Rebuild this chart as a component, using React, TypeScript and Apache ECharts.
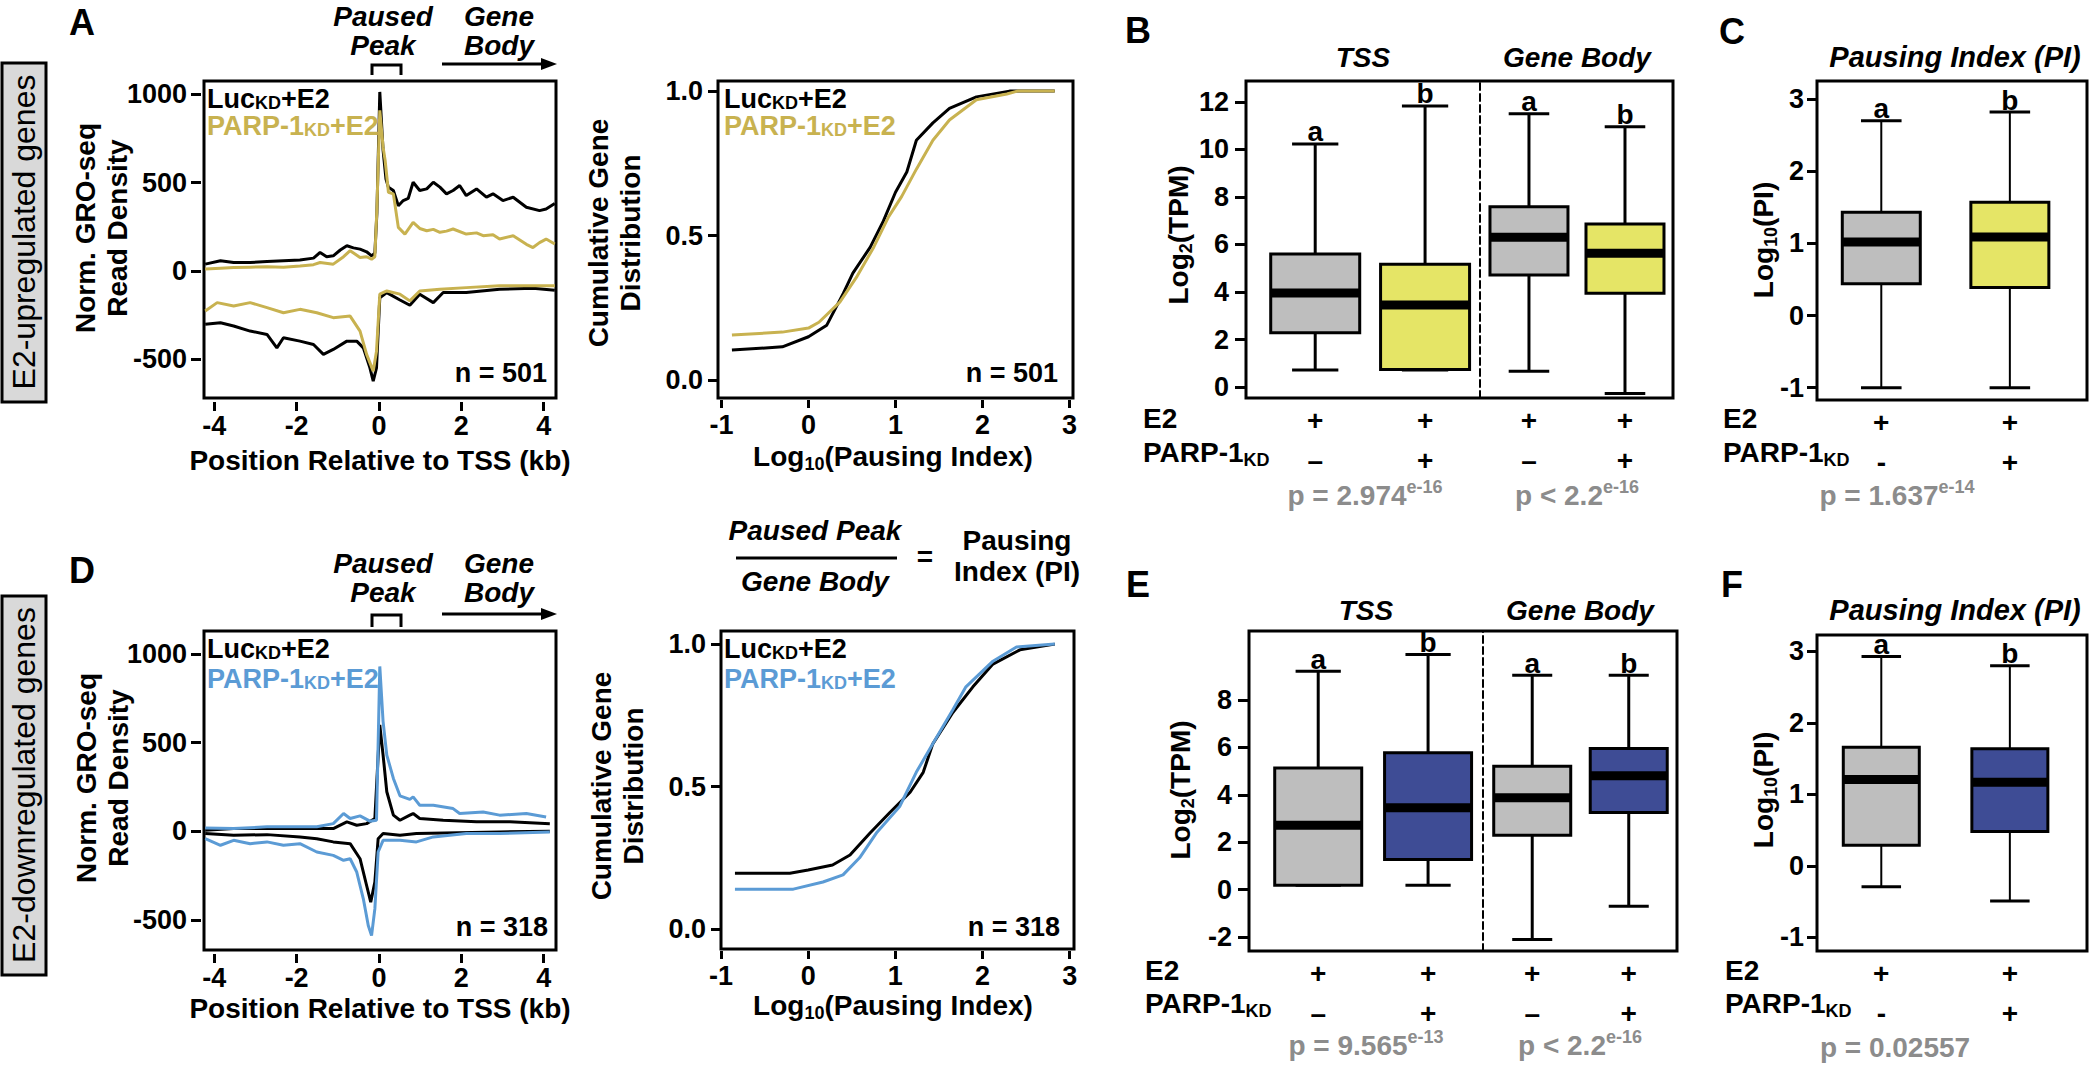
import React, { useEffect, useRef } from 'react';
import * as echarts from 'echarts';

const FONT = '"Liberation Sans", Arial, Helvetica, sans-serif';
const BLACK = '#000000';
const GOLD = '#C8B250';
const BLUE = '#5B9BD5';
const BOX_GRAY = '#BEBEBE';
const BOX_YELLOW = '#E5E566';
const BOX_NAVY = '#3E4C95';
const P_GRAY = '#8C8C8C';
const LABEL_BOX = '#D9D9D9';

// ---------- tick labels ----------
const PROFILE_X_TICKS = [-4, -2, 0, 2, 4];
const PROFILE_Y_TICKS = [-500, 0, 500, 1000];
const CUM_X_TICKS = [-1, 0, 1, 2, 3];
const CUM_Y_TICKS = [0, 0.5, 1];
const TPM_UP_TICKS = [0, 2, 4, 6, 8, 10, 12];
const TPM_DOWN_TICKS = [-2, 0, 2, 4, 6, 8];
const PI_TICKS = [-1, 0, 1, 2, 3];

// ---------- categories ----------
const GROUPS = ['LucKD+E2', 'PARP-1KD+E2'];
const E2_SIGNS = ['+', '+'];
const KD_SIGNS_TPM = ['\u2013', '+'];
const KD_SIGNS_PI = ['-', '+'];
const LETTERS = ['a', 'b'];

// ---------- GRO-seq profiles: [position kb, read density] ----------
const A_LUC_SENSE = [[-4.22,38],[-3.85,57],[-3.53,47],[-3.13,47],[-2.72,53],[-2.32,57],[-1.92,61],[-1.59,72],[-1.43,104],[-1.27,80],[-1.11,85],[-0.94,118],[-0.78,142],[-0.62,130],[-0.46,123],[-0.3,108],[-0.18,85],[-0.1,100],[-0.05,330],[0.02,1013],[0.1,682],[0.17,520],[0.23,473],[0.35,455],[0.47,369],[0.59,398],[0.71,410],[0.83,502],[0.99,455],[1.16,464],[1.32,502],[1.48,474],[1.64,436],[1.8,455],[1.96,483],[2.12,426],[2.37,464],[2.61,417],[2.77,436],[3.01,398],[3.26,417],[3.58,360],[3.9,341],[4.06,350],[4.27,382]];
const A_PARP_SENSE = [[-4.22,10],[-3.85,15],[-3.53,19],[-3.13,21],[-2.72,23],[-2.32,20],[-1.92,28],[-1.59,35],[-1.43,47],[-1.11,38],[-0.86,80],[-0.7,114],[-0.46,76],[-0.3,80],[-0.18,66],[-0.1,80],[-0.05,350],[0.02,909],[0.1,700],[0.15,625],[0.23,445],[0.35,436],[0.47,246],[0.63,208],[0.83,274],[0.99,240],[1.16,227],[1.32,235],[1.48,218],[1.64,225],[1.8,237],[2.12,208],[2.37,215],[2.53,199],[2.77,205],[2.93,180],[3.26,199],[3.58,150],[3.74,132],[3.9,160],[4.06,180],[4.27,152]];
const A_LUC_ANTI = [[-4.22,-303],[-3.85,-294],[-3.53,-312],[-3.13,-341],[-2.72,-360],[-2.48,-436],[-2.32,-379],[-1.92,-398],[-1.59,-417],[-1.35,-473],[-1.11,-445],[-0.78,-398],[-0.54,-398],[-0.38,-436],[-0.22,-549],[-0.14,-625],[-0.06,-549],[0.02,-152],[0.19,-123],[0.51,-165],[0.75,-195],[0.99,-132],[1.32,-180],[1.56,-123],[2.12,-123],[2.93,-104],[3.74,-98],[4.27,-110]];
const A_PARP_ANTI = [[-4.22,-227],[-3.93,-180],[-3.53,-199],[-3.13,-180],[-2.72,-208],[-2.32,-237],[-1.92,-218],[-1.51,-237],[-1.11,-265],[-0.7,-256],[-0.46,-341],[-0.3,-473],[-0.14,-568],[-0.06,-455],[0.02,-132],[0.19,-114],[0.51,-132],[0.75,-170],[0.99,-114],[1.48,-104],[2.12,-95],[2.93,-85],[3.74,-85],[4.27,-85]];

const D_LUC_SENSE = [[-4.22,6],[-3.53,15],[-2.72,15],[-1.92,15],[-1.11,15],[-0.78,53],[-0.54,34],[-0.3,43],[-0.1,72],[0.02,600],[0.1,430],[0.19,223],[0.35,91],[0.51,62],[0.75,91],[0.83,100],[0.99,72],[1.56,62],[2.37,53],[3.18,53],[4.15,43]];
const D_PARP_SENSE = [[-4.22,19],[-3.53,15],[-2.72,25],[-1.51,25],[-1.11,43],[-0.86,100],[-0.7,72],[-0.46,87],[-0.22,57],[-0.06,62],[0.02,930],[0.1,619],[0.19,430],[0.35,298],[0.51,200],[0.75,180],[0.83,194],[0.99,147],[1.32,147],[1.8,128],[1.96,100],[2.53,109],[2.93,91],[3.58,100],[4.06,81]];
const D_LUC_ANTI = [[-4.22,-13],[-3.53,-23],[-2.72,-19],[-1.92,-32],[-1.51,-42],[-1.11,-60],[-0.7,-70],[-0.46,-155],[-0.3,-306],[-0.2,-400],[-0.1,-287],[-0.02,-42],[0.1,-13],[0.51,-23],[0.91,-13],[2.93,-4],[4.15,0]];
const D_PARP_ANTI = [[-4.22,-42],[-3.85,-79],[-3.53,-51],[-3.13,-70],[-2.72,-60],[-2.32,-79],[-1.92,-70],[-1.51,-117],[-1.11,-136],[-0.86,-164],[-0.7,-155],[-0.54,-230],[-0.38,-381],[-0.26,-532],[-0.18,-589],[-0.1,-438],[-0.02,-117],[0.1,-51],[0.51,-51],[0.91,-60],[1.32,-32],[2.12,-13],[2.93,-13],[4.15,-4]];

// ---------- cumulative distributions: [log10 PI, fraction] ----------
const UP_CUM_LUC = [[-0.88,0.104],[-0.3,0.115],[0,0.15],[0.21,0.19],[0.4,0.3],[0.51,0.37],[0.71,0.46],[0.86,0.55],[1.0,0.65],[1.13,0.72],[1.24,0.83],[1.43,0.89],[1.62,0.94],[1.93,0.98],[2.31,1.0],[2.83,1.0]];
const UP_CUM_PARP = [[-0.88,0.156],[-0.3,0.166],[0,0.18],[0.12,0.2],[0.36,0.27],[0.56,0.36],[0.75,0.46],[0.92,0.565],[1.07,0.635],[1.24,0.73],[1.43,0.83],[1.62,0.9],[1.93,0.97],[2.28,0.99],[2.4,1.0],[2.83,1.0]];
const DOWN_CUM_LUC = [[-0.84,0.196],[-0.21,0.196],[0,0.207],[0.28,0.225],[0.48,0.26],[0.71,0.337],[0.94,0.41],[1.17,0.48],[1.32,0.55],[1.43,0.65],[1.66,0.76],[1.89,0.85],[2.12,0.93],[2.43,0.98],[2.83,1.0]];
const DOWN_CUM_PARP = [[-0.84,0.14],[-0.17,0.14],[0.17,0.165],[0.4,0.19],[0.59,0.25],[0.79,0.34],[1.05,0.43],[1.24,0.55],[1.43,0.65],[1.66,0.77],[1.81,0.85],[2.12,0.94],[2.39,0.99],[2.83,1.0]];

// ---------- box statistics: [min, Q1, median, Q3, max] ----------
const UP_TSS = [[0.72, 2.29, 3.96, 5.6, 10.23], [0.72, 0.74, 3.45, 5.17, 11.83]];
const UP_BODY = [[0.67, 4.72, 6.3, 7.59, 11.5], [-0.27, 3.95, 5.63, 6.86, 10.95]];
const UP_PI = [[-1.0, 0.44, 1.02, 1.43, 2.7], [-1.0, 0.39, 1.09, 1.57, 2.82]];
const DOWN_TSS = [[0.18, 0.18, 2.71, 5.13, 9.21], [0.18, 1.27, 3.45, 5.77, 9.92]];
const DOWN_BODY = [[-2.11, 2.29, 3.87, 5.2, 9.04], [-0.7, 3.25, 4.8, 5.95, 9.04]];
const DOWN_PI = [[-0.29, 0.29, 1.21, 1.66, 2.93], [-0.49, 0.48, 1.17, 1.64, 2.8]];

// ---------- layout ----------
const GRIDS: any = {
  A: { left: 204, top: 81, width: 352, height: 317 },
  CT: { left: 718, top: 81, width: 355, height: 317 },
  BT: { left: 1246, top: 81, width: 234, height: 317 },
  BG: { left: 1480, top: 81, width: 193, height: 317 },
  C: { left: 1817, top: 81, width: 270, height: 319 },
  D: { left: 204, top: 631, width: 352, height: 319 },
  CB: { left: 721, top: 631, width: 353, height: 318 },
  ET: { left: 1249, top: 631, width: 234, height: 320 },
  EG: { left: 1483, top: 631, width: 194, height: 320 },
  F: { left: 1817, top: 635, width: 270, height: 316 },
};
const ORDER = ['A', 'CT', 'BT', 'BG', 'C', 'D', 'CB', 'ET', 'EG', 'F'];
const GI: any = {};
ORDER.forEach((k, i) => (GI[k] = i));

const f = (size: number, italic = false, bold = true) =>
  `${italic ? 'italic ' : ''}${bold ? 'bold ' : ''}${size}px ${FONT}`;

const richOf = (size: number, color: string, lh = size + 6, subLh = Math.round(size * 0.66)) => {
  const s = Math.round(size * 0.66);
  return {
    m: { font: f(size), fill: color, color, lineHeight: lh, verticalAlign: 'middle' },
    sb: { font: f(s), fill: color, color, lineHeight: subLh, verticalAlign: 'bottom' },
    sp: { font: f(s), fill: color, color, lineHeight: subLh, verticalAlign: 'top' },
  };
};

const T = (x: number, y: number, text: string, font: string, o: any = {}) => ({
  type: 'text',
  x,
  y,
  z: 50,
  rotation: o.rotation || 0,
  style: {
    text,
    font,
    fill: o.fill || BLACK,
    align: o.align || 'center',
    textAlign: o.align || 'center',
    verticalAlign: 'middle',
    textVerticalAlign: 'middle',
    lineHeight: o.lineHeight || undefined,
    rich: o.rich || undefined,
  },
});

const fmtNum = (v: any) => String(v);

const valueXAxis = (key: string, min: number, max: number, ticks: number[], offset: number, tickLen: number, margin: number) => ({
  gridIndex: GI[key],
  type: 'value',
  position: 'bottom',
  min,
  max,
  offset,
  axisLine: { show: false, onZero: false },
  splitLine: { show: false },
  axisTick: { show: true, length: tickLen, lineStyle: { color: BLACK, width: 3 }, customValues: ticks },
  axisLabel: { customValues: ticks, margin, color: BLACK, fontSize: 27, fontWeight: 'bold', fontFamily: FONT, formatter: fmtNum },
});

const valueYAxis = (key: string, min: number, max: number, ticks: number[], offset: number, tickLen: number, margin: number, fmt: any = fmtNum) => ({
  gridIndex: GI[key],
  type: 'value',
  position: 'left',
  min,
  max,
  offset,
  axisLine: { show: false, onZero: false },
  splitLine: { show: false },
  axisTick: { show: true, length: tickLen, lineStyle: { color: BLACK, width: 3 }, customValues: ticks },
  axisLabel: { customValues: ticks, margin, color: BLACK, fontSize: 27, fontWeight: 'bold', fontFamily: FONT, formatter: fmt },
});

const dividerYAxis = (key: string, min: number, max: number) => ({
  gridIndex: GI[key],
  type: 'value',
  position: 'left',
  min,
  max,
  axisLine: { show: true, onZero: false, lineStyle: { color: BLACK, width: 2, type: [7, 4] } },
  axisTick: { show: false },
  axisLabel: { show: false },
  splitLine: { show: false },
});

// group axis: group i sits at x = i + 1; min/max set where the boxes fall in the panel
const groupXAxis = (key: string, min: number, max: number, kdSigns: string[]) => ({
  gridIndex: GI[key],
  type: 'value',
  position: 'bottom',
  min,
  max,
  axisLine: { show: false, onZero: false },
  axisTick: { show: false },
  splitLine: { show: false },
  axisLabel: {
    customValues: GROUPS.map((_g, i) => i + 1),
    margin: 2,
    lineHeight: 40,
    fontSize: 28,
    fontWeight: 'bold',
    fontFamily: FONT,
    color: BLACK,
    formatter: (v: number) => `${E2_SIGNS[v - 1]}\n${kdSigns[v - 1]}`,
  },
});

const lineSeries = (key: string, data: number[][], color: string) => ({
  type: 'line',
  xAxisIndex: GI[key],
  yAxisIndex: GI[key],
  data,
  showSymbol: false,
  symbol: 'none',
  silent: true,
  lineStyle: { color, width: 3 },
  itemStyle: { color },
  z: 3,
});

const boxSeries = (key: string, stats: number[][], fills: string[], boxW: number, whiskerW: number) => ({
  type: 'custom',
  coordinateSystem: 'cartesian2d',
  xAxisIndex: GI[key],
  yAxisIndex: GI[key],
  silent: true,
  z: 3,
  data: stats.map((s, i) => [i + 1, ...s]),
  encode: { x: 0, y: [1, 2, 3, 4, 5] },
  renderItem: (params: any, api: any) => {
    const i = params.dataIndex;
    const gx = api.value(0);
    const c = (v: number) => api.coord([gx, v]);
    const [x, yMin] = c(api.value(1));
    const yQ1 = c(api.value(2))[1];
    const yMed = c(api.value(3))[1];
    const yQ3 = c(api.value(4))[1];
    const yMax = c(api.value(5))[1];
    const cap = boxW * 0.52;
    const ln = (x1: number, y1: number, x2: number, y2: number, w: number) => ({
      type: 'line',
      shape: { x1, y1, x2, y2 },
      style: { stroke: BLACK, lineWidth: w },
    });
    return {
      type: 'group',
      children: [
        ln(x, yQ3, x, yMax, whiskerW),
        ln(x, yQ1, x, yMin, whiskerW),
        ln(x - cap / 2, yMax, x + cap / 2, yMax, 3),
        ln(x - cap / 2, yMin, x + cap / 2, yMin, 3),
        {
          type: 'rect',
          shape: { x: x - boxW / 2, y: yQ3, width: boxW, height: yQ1 - yQ3 },
          style: { fill: fills[i], stroke: BLACK, lineWidth: 3 },
        },
        {
          type: 'rect',
          shape: { x: x - boxW / 2, y: yMed - 4.5, width: boxW, height: 9 },
          style: { fill: BLACK },
        },
        {
          type: 'text',
          x,
          y: yMax - 12,
          style: {
            text: LETTERS[i],
            font: f(28),
            fill: BLACK,
            align: 'center',
            textAlign: 'center',
            verticalAlign: 'middle',
            textVerticalAlign: 'middle',
          },
        },
      ],
    };
  },
});

function buildGraphics() {
  const els: any[] = [];
  const R = (x: number, y: number, w: number, h: number, fill: string, lw = 3) => ({
    type: 'rect',
    z: 40,
    shape: { x, y, width: w, height: h },
    style: { fill, stroke: BLACK, lineWidth: lw },
  });
  const L = (x1: number, y1: number, x2: number, y2: number, w = 3) => ({
    type: 'line',
    z: 40,
    shape: { x1, y1, x2, y2 },
    style: { stroke: BLACK, lineWidth: w },
  });

  // panel letters
  els.push(T(82, 22, 'A', f(36)));
  els.push(T(1138, 30, 'B', f(36)));
  els.push(T(1732, 31, 'C', f(36)));
  els.push(T(82, 570, 'D', f(36)));
  els.push(T(1138, 584, 'E', f(36)));
  els.push(T(1732, 584, 'F', f(36)));

  // side labels
  els.push(R(2, 63, 44, 339, LABEL_BOX));
  els.push(T(24, 232, 'E2-upregulated genes', f(32, false, false), { rotation: Math.PI / 2 }));
  els.push(R(2, 596, 44, 379, LABEL_BOX));
  els.push(T(24, 785, 'E2-downregulated genes', f(32, false, false), { rotation: Math.PI / 2 }));

  // profile headers (A & D)
  [[31, 65, 75, 64], [578, 615, 627, 614]].forEach(([ty, bt, bb, ay]) => {
    els.push(T(383, ty, 'Paused\nPeak', f(28, true), { lineHeight: 29 }));
    els.push(T(499, ty, 'Gene\nBody', f(28, true), { lineHeight: 29 }));
    els.push({
      type: 'polyline',
      z: 40,
      shape: { points: [[372, bb], [372, bt], [401, bt], [401, bb]] },
      style: { stroke: BLACK, lineWidth: 3, fill: 'none' },
    });
    els.push(L(442, ay, 545, ay, 3));
    els.push({
      type: 'polygon',
      z: 40,
      shape: { points: [[557, ay], [541, ay - 6], [541, ay + 6]] },
      style: { fill: BLACK },
    });
  });

  // y titles
  els.push(T(101, 228, 'Norm. GRO-seq\nRead Density', f(28), { rotation: Math.PI / 2, lineHeight: 32 }));
  els.push(T(102, 778, 'Norm. GRO-seq\nRead Density', f(28), { rotation: Math.PI / 2, lineHeight: 32 }));
  els.push(T(614, 233, 'Cumulative Gene\nDistribution', f(28), { rotation: Math.PI / 2, lineHeight: 32 }));
  els.push(T(617, 786, 'Cumulative Gene\nDistribution', f(28), { rotation: Math.PI / 2, lineHeight: 32 }));
  const rb = richOf(28, BLACK);
  els.push(T(1178, 235, '{m|Log}{sb|2}{m|(TPM)}', f(28), { rotation: Math.PI / 2, rich: rb }));
  els.push(T(1180, 790, '{m|Log}{sb|2}{m|(TPM)}', f(28), { rotation: Math.PI / 2, rich: rb }));
  els.push(T(1763, 240, '{m|Log}{sb|10}{m|(PI)}', f(28), { rotation: Math.PI / 2, rich: rb }));
  els.push(T(1763, 790, '{m|Log}{sb|10}{m|(PI)}', f(28), { rotation: Math.PI / 2, rich: rb }));

  // x titles
  els.push(T(380, 460, 'Position Relative to TSS (kb)', f(28)));
  els.push(T(380, 1008, 'Position Relative to TSS (kb)', f(28)));
  els.push(T(893, 456, '{m|Log}{sb|10}{m|(Pausing Index)}', f(28), { rich: rb }));
  els.push(T(893, 1005, '{m|Log}{sb|10}{m|(Pausing Index)}', f(28), { rich: rb }));

  // legends
  const legend = (x: number, y1: number, y2: number, color: string) => {
    els.push(T(x, y1, '{m|Luc}{sb|KD}{m|+E2}', f(27), { align: 'left', rich: richOf(27, BLACK, 25, 8) }));
    els.push(T(x, y2, '{m|PARP-1}{sb|KD}{m|+E2}', f(27), { align: 'left', rich: richOf(27, color, 25, 8) }));
  };
  legend(207, 99, 126, GOLD);
  legend(724, 99, 126, GOLD);
  legend(207, 649, 679, BLUE);
  legend(724, 649, 679, BLUE);

  // n labels
  els.push(T(547, 373, 'n = 501', f(27), { align: 'right' }));
  els.push(T(1058, 373, 'n = 501', f(27), { align: 'right' }));
  els.push(T(548, 927, 'n = 318', f(27), { align: 'right' }));
  els.push(T(1060, 927, 'n = 318', f(27), { align: 'right' }));

  // pausing index formula
  els.push(T(815, 530, 'Paused Peak', f(28, true)));
  els.push(L(736, 558, 897, 558, 3));
  els.push(T(815, 581, 'Gene Body', f(28, true)));
  els.push(T(925, 556, '=', f(28)));
  els.push(T(1017, 540, 'Pausing', f(28)));
  els.push(T(1017, 571, 'Index (PI)', f(28)));

  // box panel frames (B, E)
  const frame = (a: any, b: any) => ({
    type: 'rect',
    z: 40,
    shape: { x: a.left, y: a.top, width: a.width + b.width, height: a.height },
    style: { fill: 'none', stroke: BLACK, lineWidth: 3 },
  });
  els.push(frame(GRIDS.BT, GRIDS.BG));
  els.push(frame(GRIDS.ET, GRIDS.EG));

  // box panel headers
  els.push(T(1363, 57, 'TSS', f(28, true)));
  els.push(T(1577, 57, 'Gene Body', f(28, true)));
  els.push(T(1955, 57, 'Pausing Index (PI)', f(29, true)));
  els.push(T(1366, 610, 'TSS', f(28, true)));
  els.push(T(1580, 610, 'Gene Body', f(28, true)));
  els.push(T(1955, 610, 'Pausing Index (PI)', f(29, true)));

  // row labels
  const rows = (x: number, y1: number, y2: number) => {
    els.push(T(x, y1, 'E2', f(28), { align: 'left' }));
    els.push(T(x, y2, '{m|PARP-1}{sb|KD}', f(28), { align: 'left', rich: rb }));
  };
  rows(1143, 418, 452);
  rows(1723, 418, 452);
  rows(1145, 970, 1003);
  rows(1725, 970, 1003);

  // p values
  const rp = richOf(28, P_GRAY);
  const pv = (x: number, y: number, main: string, exp: string) =>
    els.push(T(x, y, exp ? `{m|${main}}{sp|${exp}}` : `{m|${main}}`, f(28), { rich: rp, fill: P_GRAY }));
  pv(1365, 495, 'p = 2.974', 'e-16');
  pv(1577, 495, 'p < 2.2', 'e-16');
  pv(1897, 495, 'p = 1.637', 'e-14');
  pv(1366, 1045, 'p = 9.565', 'e-13');
  pv(1580, 1045, 'p < 2.2', 'e-16');
  pv(1895, 1047, 'p = 0.02557', '');

  return els;
}

function buildOption() {
  const grids = ORDER.map((k) => {
    const g = GRIDS[k];
    const framed = ['A', 'CT', 'C', 'D', 'CB', 'F'].includes(k);
    return {
      left: g.left,
      top: g.top,
      width: g.width,
      height: g.height,
      containLabel: false,
      show: framed,
      borderColor: BLACK,
      borderWidth: 3,
      backgroundColor: 'transparent',
    };
  });

  const cumFmt = (v: number) => v.toFixed(1);

  const xAxis = [
    valueXAxis('A', -4.25, 4.3, PROFILE_X_TICKS, 4, 9, 10),
    valueXAxis('CT', -1.04, 3.04, CUM_X_TICKS, 2, 8, 11),
    groupXAxis('BT', 0.37, 2.5, KD_SIGNS_TPM),
    groupXAxis('BG', 0.49, 2.5, KD_SIGNS_TPM),
    groupXAxis('C', 0.5, 2.6, KD_SIGNS_PI),
    valueXAxis('D', -4.25, 4.3, PROFILE_X_TICKS, 4, 9, 10),
    valueXAxis('CB', -1.0, 3.05, CUM_X_TICKS, 2, 8, 11),
    groupXAxis('ET', 0.37, 2.5, KD_SIGNS_TPM),
    groupXAxis('EG', 0.49, 2.5, KD_SIGNS_TPM),
    groupXAxis('F', 0.5, 2.6, KD_SIGNS_PI),
  ];

  const yAxis = [
    valueYAxis('A', -720, 1075, PROFILE_Y_TICKS, 3, 10, 14),
    valueYAxis('CT', -0.062, 1.035, CUM_Y_TICKS, 1, 9, 14, cumFmt),
    valueYAxis('BT', -0.46, 12.88, TPM_UP_TICKS, 1, 10, 16),
    dividerYAxis('BG', -0.46, 12.88),
    valueYAxis('C', -1.17, 3.25, PI_TICKS, 1, 9, 12),
    valueYAxis('D', -670, 1130, PROFILE_Y_TICKS, 3, 10, 14),
    valueYAxis('CB', -0.07, 1.046, CUM_Y_TICKS, 1, 9, 14, cumFmt),
    valueYAxis('ET', -2.59, 10.91, TPM_DOWN_TICKS, 1, 10, 16),
    dividerYAxis('EG', -2.59, 10.91),
    valueYAxis('F', -1.19, 3.23, PI_TICKS, 1, 9, 12),
  ];

  const series = [
    lineSeries('A', A_LUC_SENSE, BLACK),
    lineSeries('A', A_LUC_ANTI, BLACK),
    lineSeries('A', A_PARP_SENSE, GOLD),
    lineSeries('A', A_PARP_ANTI, GOLD),
    lineSeries('CT', UP_CUM_LUC, BLACK),
    lineSeries('CT', UP_CUM_PARP, GOLD),
    boxSeries('BT', UP_TSS, [BOX_GRAY, BOX_YELLOW], 89, 3),
    boxSeries('BG', UP_BODY, [BOX_GRAY, BOX_YELLOW], 78, 3),
    boxSeries('C', UP_PI, [BOX_GRAY, BOX_YELLOW], 78, 2),
    lineSeries('D', D_LUC_SENSE, BLACK),
    lineSeries('D', D_LUC_ANTI, BLACK),
    lineSeries('D', D_PARP_SENSE, BLUE),
    lineSeries('D', D_PARP_ANTI, BLUE),
    lineSeries('CB', DOWN_CUM_LUC, BLACK),
    lineSeries('CB', DOWN_CUM_PARP, BLUE),
    boxSeries('ET', DOWN_TSS, [BOX_GRAY, BOX_NAVY], 87, 3),
    boxSeries('EG', DOWN_BODY, [BOX_GRAY, BOX_NAVY], 77, 3),
    boxSeries('F', DOWN_PI, [BOX_GRAY, BOX_NAVY], 76, 2),
  ];

  return {
    animation: false,
    backgroundColor: '#ffffff',
    textStyle: { fontFamily: FONT },
    grid: grids,
    xAxis,
    yAxis,
    series,
    graphic: { elements: buildGraphics() },
  };
}

export default function App() {
  const ref = useRef<HTMLDivElement>(null);
  useEffect(() => {
    document.body.style.margin = '0';
    const chart = echarts.init(ref.current as HTMLDivElement, null, { renderer: 'svg' });
    chart.setOption(buildOption() as any);
    return () => chart.dispose();
  }, []);
  return <div ref={ref} style={{ width: 2100, height: 1081, background: '#ffffff' }} />;
}
